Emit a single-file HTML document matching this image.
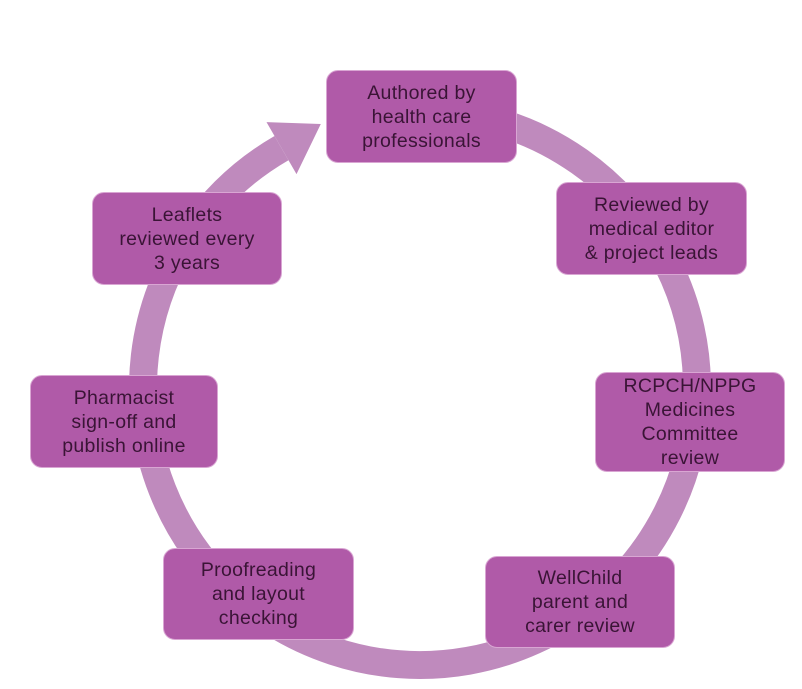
<!DOCTYPE html>
<html><head><style>
body{margin:0;width:802px;height:689px;background:#fff;position:relative;overflow:hidden;font-family:"Liberation Sans",sans-serif}
.b{position:absolute;background:#b05aa8;border-radius:12px;border:1px solid #d9a6d3;color:#3a1436;font-size:19.5px;line-height:24px;text-align:center;display:flex;align-items:center;justify-content:center;box-sizing:border-box;letter-spacing:0.3px}
</style></head><body>
<svg width="802" height="689" style="position:absolute;left:0;top:0">
<path d="M468.1,115.2 A277,277 0 1 1 281.5,148.1" fill="none" stroke="#bf8abd" stroke-width="28"/>
<polygon points="266.5,122.1 296.5,174.1 320.8,124" fill="#bf8abd"/>
</svg>
<div class="b" style="left:326px;top:70px;width:191px;height:93px">Authored by<br>health care<br>professionals</div>
<div class="b" style="left:556px;top:182px;width:191px;height:93px">Reviewed by<br>medical editor<br>&amp; project leads</div>
<div class="b" style="left:595px;top:372px;width:190px;height:100px">RCPCH/NPPG<br>Medicines<br>Committee<br>review</div>
<div class="b" style="left:485px;top:556px;width:190px;height:92px">WellChild<br>parent and<br>carer review</div>
<div class="b" style="left:163px;top:548px;width:191px;height:92px">Proofreading<br>and layout<br>checking</div>
<div class="b" style="left:30px;top:375px;width:188px;height:93px">Pharmacist<br>sign-off and<br>publish online</div>
<div class="b" style="left:92px;top:192px;width:190px;height:93px">Leaflets<br>reviewed every<br>3 years</div>
</body></html>
